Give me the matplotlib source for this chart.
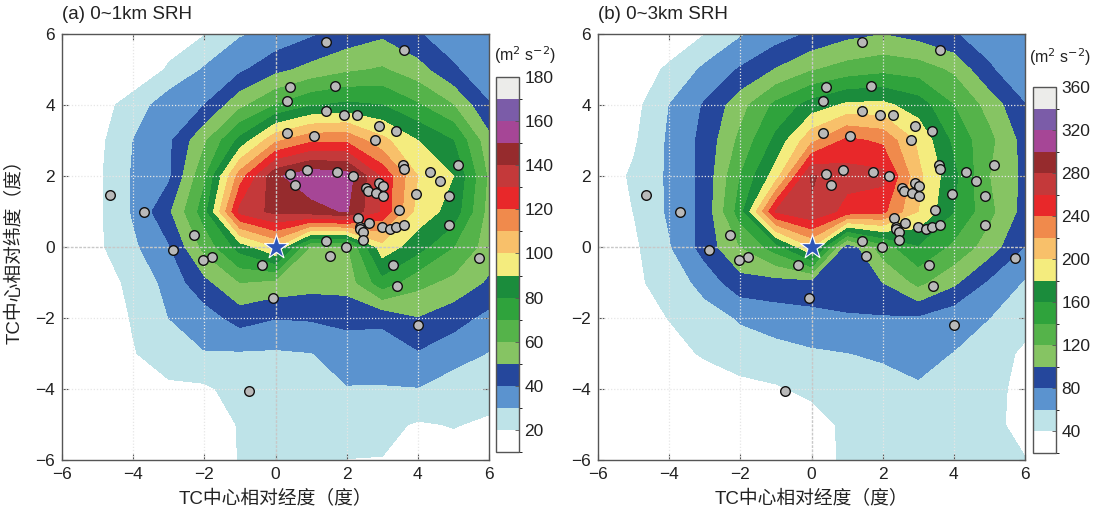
import numpy as np
import matplotlib
matplotlib.use("Agg")
import matplotlib.pyplot as plt
from matplotlib.colors import ListedColormap, BoundaryNorm
import matplotlib.colorbar as mcb

plt.rcParams['font.family'] = ['Liberation Sans', 'Noto Sans CJK SC', 'DejaVu Sans']
plt.rcParams['axes.unicode_minus'] = True

# grid coordinates (degrees relative to TC centre)
grid_x = [-6, -5, -4, -3, -2, -1, 0, 1, 2, 3, 4, 5, 6]
grid_y = [6, 5, 4, 3, 2, 1, 0, -1, -2, -3, -4, -5, -6]

# 0-1 km SRH (m2 s-2), rows from y=6 (top) to y=-6 (bottom)
srh_01km = [
    [5, 8, 12, 16, 19.5, 29, 33, 38.5, 44, 48, 40.5, 36, 33],
    [6, 10, 13, 21, 31, 38, 47, 53, 58, 61, 54, 41, 35],
    [8, 16, 24, 36, 40, 57, 70, 79, 82, 80, 71, 60, 40.5],
    [9, 17, 30, 38, 58, 83, 108, 118, 118, 103, 90, 80, 53],
    [10, 18, 31, 38, 68, 115, 148, 157, 155, 128, 100, 90, 58],
    [11, 18, 31, 48, 75, 133, 143, 146, 151, 128, 96, 86, 56],
    [11, 18, 28, 39, 63, 84, 100, 58, 58, 96, 84, 70, 55],
    [10, 16, 22, 33.4, 47, 60, 57, 54, 54, 76, 63, 57, 48.5],
    [8, 14, 20.7, 30, 35, 44, 40.3, 41, 43, 42, 49.5, 44, 37],
    [7, 12, 19.5, 24, 29.5, 29, 28.7, 29.7, 34, 35, 39, 34, 29.5],
    [6, 10, 12, 18.5, 18.2, 24, 26, 27, 29.5, 29.3, 29.5, 25, 24],
    [5, 8, 8, 10, 8, 21.5, 24, 25, 25, 22.5, 19, 20.5, 18.5],
    [4, 6, 6, 6, 6, 21, 22, 24, 19.8, 19.7, 15, 16, 15],
]

# 0-3 km SRH (m2 s-2)
srh_03km = [
    [15, 20, 28, 39.5, 57.5, 70, 83, 94, 99.5, 92, 81, 72, 66],
    [18, 30, 43, 64, 82, 101, 118, 128, 134, 130, 116, 82, 68],
    [22, 33, 60, 82, 112, 145, 168, 184, 185, 170, 140, 112, 80.5],
    [25, 37, 63, 86, 125, 165, 215, 245, 236, 196, 155, 125, 92],
    [28, 43, 63, 86, 140, 190, 282, 268, 266, 205, 165, 120, 95],
    [30, 40.2, 63, 86, 150, 262, 278, 252, 245, 200, 160, 125, 92],
    [30, 36, 58, 88, 120, 150, 200, 86, 130, 158, 135, 110, 79],
    [28, 37, 46, 68, 92, 92, 92, 90, 100, 125, 104, 76, 58],
    [24, 32, 40.5, 50, 62, 70, 74, 78, 78, 77, 66, 60, 48],
    [20, 27, 34, 42, 50, 52, 57, 59.5, 63, 64, 59.5, 50, 36],
    [16, 20, 25, 30, 34, 38, 44, 50, 51.5, 58.5, 52, 50, 30],
    [13, 16, 19, 22, 25, 28, 32, 44, 52, 53, 50, 48, 30],
    [10, 13, 16, 19, 22, 26, 30, 44, 50, 50, 48, 46, 41],
]

# tornado locations relative to TC centre
pt_x = [1.41, 3.62, 0.41, 1.67, 0.32, 1.41, 1.93, 2.29, 2.92, 3.38, 0.32, 1.09, 2.81,
        3.58, 3.62, 5.12, 4.33, 0.88, 0.42, 1.73, 2.17, 0.54, 4.63, 2.54, 2.61, 2.91,
        3.01, 2.82, 3.02, 3.94, 4.87, -4.66, -3.69, 3.48, 2.33, 2.63, 2.38, 2.37, 2.46,
        2.47, 3.00, 3.22, 3.39, 3.62, 4.87, -2.29, 1.42, -2.88, 1.97, 1.52, -1.79, -2.03,
        -0.39, 3.31, 5.72, 3.42, -0.06, 4.00, -0.75]
pt_y = [5.77, 5.55, 4.51, 4.54, 4.11, 3.84, 3.72, 3.72, 3.41, 3.26, 3.21, 3.14, 3.01,
        2.30, 2.20, 2.32, 2.10, 2.17, 2.05, 2.12, 1.99, 1.75, 1.86, 1.67, 1.59, 1.81,
        1.73, 1.53, 1.45, 1.48, 1.45, 1.46, 1.00, 1.05, 0.82, 0.69, 0.57, 0.50, 0.43,
        0.21, 0.57, 0.50, 0.57, 0.62, 0.63, 0.34, 0.18, -0.09, 0.00, -0.26, -0.29, -0.36,
        -0.50, -0.50, -0.32, -1.09, -1.44, -2.19, -4.06]

levels_01 = list(range(10, 181, 10))
levels_03 = list(range(20, 361, 20))
ticks_01 = list(range(20, 181, 20))
ticks_03 = list(range(40, 361, 40))

colors = ['#ffffff', '#bee3e8', '#5b93cf', '#25479c', '#86c463', '#55b34a', '#2fa33c',
          '#1b8c3c', '#f4ec7e', '#f8c06a', '#f08a4c', '#e8282a', '#c4393a', '#962b2d',
          '#a64696', '#7b5ca8', '#ececea']
cmap = ListedColormap(colors)
cmap.set_under('#ffffff')

W, H = 1094, 516
fig = plt.figure(figsize=(W / 100, H / 100), dpi=100)

def fx(px):
    return px / W

def fy(py):
    return 1 - py / H

panels = [
    dict(data=srh_01km, levels=levels_01, ticks=ticks_01, title='(a) 0~1km SRH',
         ax=(62, 34, 489, 460), cax=(496, 77, 519, 452), unit_xy=(494, 55)),
    dict(data=srh_03km, levels=levels_03, ticks=ticks_03, title='(b) 0~3km SRH',
         ax=(598, 34, 1025, 460), cax=(1033, 87, 1056, 453), unit_xy=(1029, 57)),
]

X, Y = np.meshgrid(grid_x, grid_y)
edge = '#555555'
for i, p in enumerate(panels):
    l, t, r, b = p['ax']
    ax = fig.add_axes([fx(l), fy(b), fx(r - l), (b - t) / H])
    Z = np.array(p['data'], dtype=float)
    norm = BoundaryNorm(p['levels'], cmap.N)
    ax.contourf(X, Y, Z, levels=p['levels'], cmap=cmap, norm=norm, extend='min')
    ax.set_xlim(-6, 6)
    ax.set_ylim(-6, 6)
    ax.set_xticks(range(-6, 7, 2))
    ax.set_yticks(range(-6, 7, 2))
    for v in (-4, -2, 2, 4):
        ax.axvline(v, color='#e6e6e6', lw=0.9, ls=(0, (1, 1.5)), zorder=2)
        ax.axhline(v, color='#e6e6e6', lw=0.9, ls=(0, (1, 1.5)), zorder=2)
    ax.axvline(0, color='#c8c8c8', lw=1.0, ls=(0, (2, 1)), zorder=2)
    ax.axhline(0, color='#c8c8c8', lw=1.0, ls=(0, (2, 1)), zorder=2)
    ax.scatter(pt_x, pt_y, s=48, facecolor='#b9b9b9', edgecolor='#111111', linewidths=1.0, zorder=4)
    ax.scatter([0], [0], marker='*', s=330, facecolor='#2f56b8', edgecolor='white', linewidths=0.8, zorder=5)
    ax.tick_params(direction='in', length=4, width=0.8, colors=edge, labelcolor='#222222',
                   labelsize=12.5, top=True, right=True, pad=5)
    for s in ax.spines.values():
        s.set_color(edge)
        s.set_linewidth(1.0)
    ax.set_xlabel('TC中心相对经度（度）', fontsize=13.5, color='#222222', labelpad=6)
    if i == 0:
        ax.set_ylabel('TC中心相对纬度（度）', fontsize=13.5, color='#222222', labelpad=8)
    ax.text(0.0, 1.025, p['title'], transform=ax.transAxes, fontsize=13.5,
            ha='left', va='bottom', color='#222222')

    cl, ct, cr, cb = p['cax']
    cax = fig.add_axes([fx(cl), fy(cb), fx(cr - cl), (cb - ct) / H])
    cbar = mcb.ColorbarBase(cax, cmap=cmap, norm=norm, boundaries=p['levels'],
                            ticks=p['ticks'], orientation='vertical')
    cbar.outline.set_edgecolor(edge)
    cbar.outline.set_linewidth(1.0)
    cax.tick_params(direction='in', length=3, width=0.6, colors=edge,
                    labelcolor='#222222', labelsize=12.5, pad=4)
    ux, uy = p['unit_xy']
    fig.text(fx(ux), fy(uy), '(m$^2$ s$^{-2}$)', fontsize=11.5, ha='left', va='center',
             color='#222222')

fig.savefig('out.png', dpi=100)
